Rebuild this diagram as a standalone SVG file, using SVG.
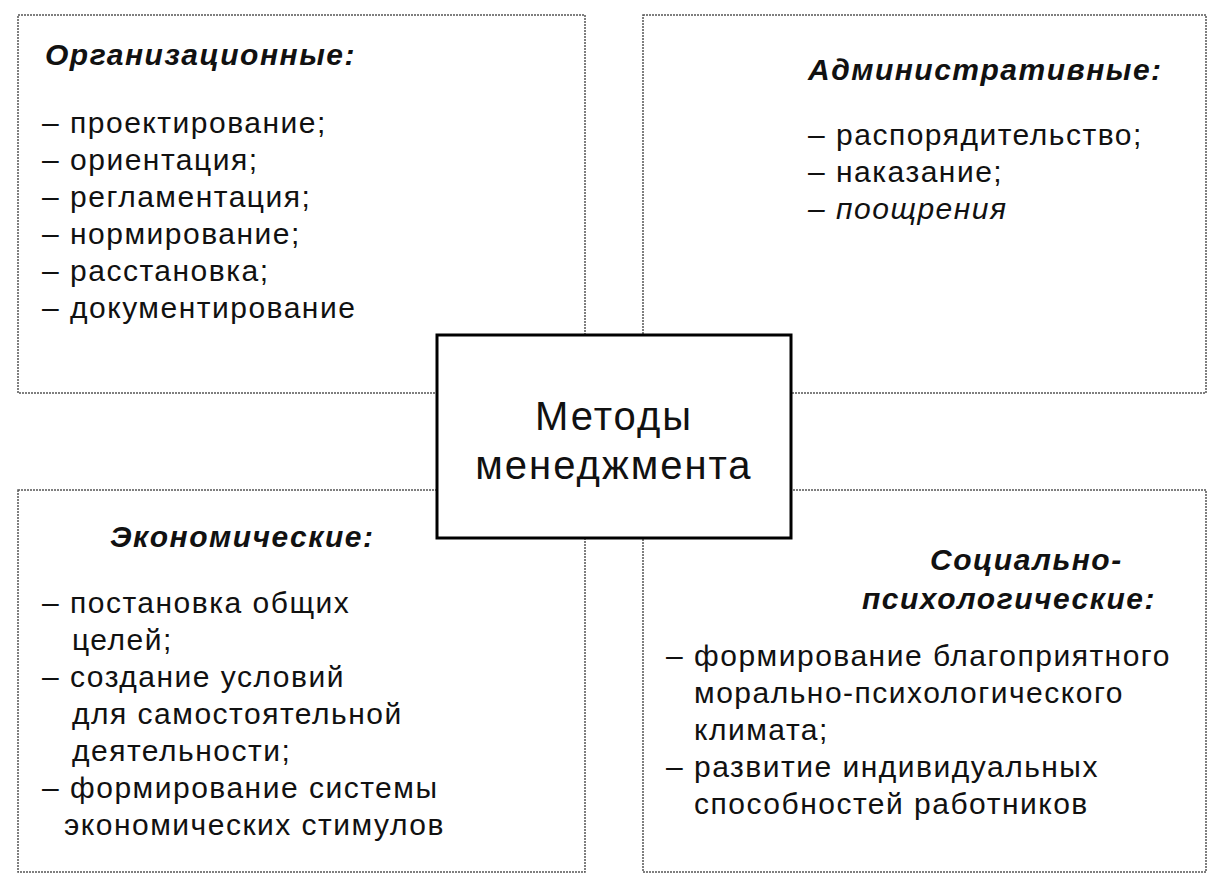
<svg xmlns="http://www.w3.org/2000/svg" width="1220" height="886" viewBox="0 0 1220 886">
<style>
.box{fill:#fff;stroke:#555;stroke-width:1.5;stroke-dasharray:2 1}
.c{fill:#fff;stroke:#000;stroke-width:3}
text{font-family:"Liberation Sans",Arial,sans-serif;font-size:30px;letter-spacing:1.5px;fill:#111}
.h{font-weight:bold;font-style:italic}
.ct{font-size:40px;letter-spacing:2px;text-anchor:middle}
</style>
<rect width="1220" height="886" fill="#fff"/>
<g id="org"><rect class="box" x="18" y="15" width="567" height="378"/>
<text class="h" x="45" y="65">Организационные:</text>
<text x="42" y="133">– проектирование;</text>
<text x="42" y="170">– ориентация;</text>
<text x="42" y="207">– регламентация;</text>
<text x="42" y="244">– нормирование;</text>
<text x="42" y="281">– расстановка;</text>
<text x="42" y="318">– документирование</text></g>
<g id="adm"><rect class="box" x="643" y="15" width="563" height="378"/>
<text class="h" x="808" y="80">Административные:</text>
<text x="808" y="145">– распорядительство;</text>
<text x="808" y="182">– наказание;</text>
<text x="808" y="219" font-style="italic">– поощрения</text></g>
<g id="eco"><rect class="box" x="18" y="490" width="567" height="382"/>
<text class="h" x="110" y="547">Экономические:</text>
<text x="42" y="613">– постановка общих</text>
<text x="72" y="650">целей;</text>
<text x="42" y="687">– создание условий</text>
<text x="72" y="724">для самостоятельной</text>
<text x="72" y="761">деятельности;</text>
<text x="42" y="798">– формирование системы</text>
<text x="64" y="835">экономических стимулов</text></g>
<g id="soc"><rect class="box" x="643" y="490" width="563" height="382"/>
<text class="h" x="930" y="570">Социально-</text>
<text class="h" x="862" y="609">психологические:</text>
<text x="666" y="666">– формирование благоприятного</text>
<text x="694" y="703">морально-психологического</text>
<text x="694" y="740">климата;</text>
<text x="666" y="777">– развитие индивидуальных</text>
<text x="694" y="814">способностей работников</text></g>
<g id="center"><rect class="c" x="437" y="335" width="354" height="203"/>
<text class="ct" x="614" y="430">Методы</text>
<text class="ct" x="614" y="479">менеджмента</text></g>
<g id="connectors"/>
</svg>
